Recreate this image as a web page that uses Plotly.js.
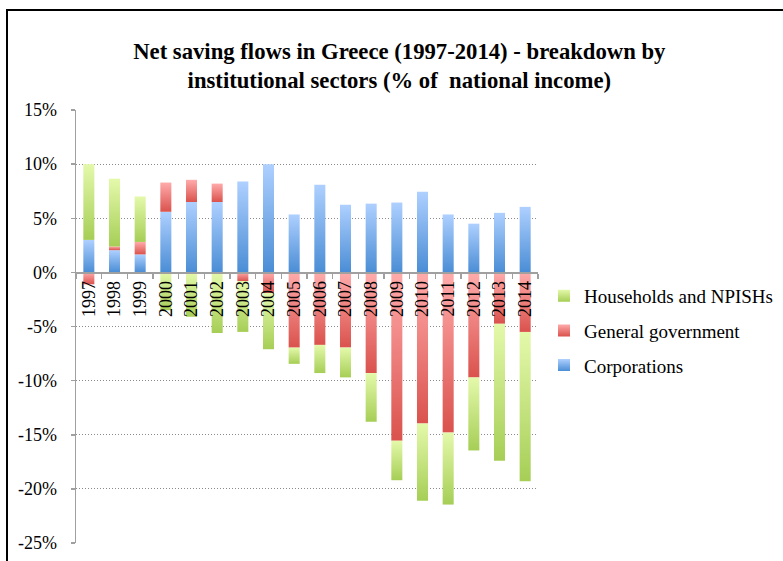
<!DOCTYPE html>
<html>
<head>
<meta charset="utf-8">
<script src="https://cdn.plot.ly/plotly-3.0.1.min.js"></script>
<style>
  html, body { margin: 0; padding: 0; background: #fff; }
  #wrap { position: relative; width: 783px; height: 561px; overflow: hidden; }
  #frame { position: absolute; left: 6px; top: 9px; width: 800px; height: 600px; border: 2px solid #000; box-sizing: border-box; }
  #chart { position: absolute; left: 0; top: 0; width: 783px; height: 561px; }
</style>
</head>
<body>
<div id="wrap">
  <div id="frame"></div>
  <div id="chart"></div>
</div>
<script>
const years = ['1997','1998','1999','2000','2001','2002','2003','2004','2005','2006','2007','2008','2009','2010','2011','2012','2013','2014'];
const corporations = [3.0, 2.05, 1.66, 5.6, 6.5, 6.5, 8.4, 10.0, 5.35, 8.1, 6.25, 6.35, 6.45, 7.45, 5.35, 4.5, 5.5, 6.05];
const generalGovernment = [-1.1, 0.35, 1.15, 2.7, 2.05, 1.7, -0.8, -1.9, -6.95, -6.7, -6.95, -9.3, -15.55, -13.95, -14.8, -9.7, -4.75, -5.5];
const households = [7.0, 6.25, 4.2, -3.5, -4.1, -5.6, -4.7, -5.2, -1.5, -2.6, -2.75, -4.5, -3.65, -7.15, -6.65, -6.75, -12.65, -13.8];
const yTickVals = [-25, -20, -15, -10, -5, 0, 5, 10, 15];
const yTickText = ['-25%', '-20%', '-15%', '-10%', '-5%', '0%', '5%', '10%', '15%'];

const serif = 'Liberation Serif, DejaVu Serif, serif';

const traces = [
  { type: 'bar', name: 'Corporations', x: years, y: corporations, marker: { color: '#79ade8' }, legendgroup: 'c', legendrank: 3 },
  { type: 'bar', name: 'General government', x: years, y: generalGovernment, marker: { color: '#ee8481' }, legendgroup: 'g', legendrank: 2 },
  { type: 'bar', name: 'Households and NPISHs', x: years, y: households, marker: { color: '#c6e585' }, legendgroup: 'h', legendrank: 1 }
];

const layout = {
  width: 783, height: 561,
  paper_bgcolor: 'rgba(0,0,0,0)', plot_bgcolor: 'rgba(0,0,0,0)',
  margin: { l: 76, r: 245, t: 109.5, b: 17.7, autoexpand: false },
  barmode: 'relative', bargap: 0.57,
  title: {
    text: '<b>Net saving flows in Greece (1997-2014) - breakdown by<br>institutional sectors (% of  national income)</b>',
    font: { family: serif, size: 22.7, color: '#000' },
    x: 0.51, xanchor: 'center', y: 0.895, yanchor: 'middle', yref: 'container'
  },
  xaxis: {
    type: 'category', anchor: 'free', position: 0.625,
    showline: true, linecolor: '#a0a0a0', linewidth: 1.5,
    ticks: 'outside', tickson: 'boundaries', ticklen: 5, tickcolor: '#a0a0a0', tickwidth: 1.5,
    tickangle: -90, tickfont: { family: serif, size: 18, color: '#000' },
    showgrid: false, zeroline: false
  },
  yaxis: {
    range: [-25, 15], tickvals: yTickVals, ticktext: yTickText,
    showline: true, linecolor: '#a0a0a0', linewidth: 1.5,
    ticks: 'outside', ticklen: 4, tickcolor: '#a0a0a0', tickwidth: 1.5,
    showgrid: true, gridcolor: '#8a8a8a', griddash: '1px,2px', gridwidth: 1,
    zeroline: false, ticklabelstandoff: 10,
    tickfont: { family: serif, size: 18, color: '#000' }
  },
  legend: {
    x: 1.013, xanchor: 'left', y: 0.49, yanchor: 'middle',
    traceorder: 'grouped', tracegroupgap: 7,
    font: { family: serif, size: 19, color: '#000' },
    bgcolor: 'rgba(0,0,0,0)'
  },
  showlegend: true
};

Plotly.newPlot('chart', traces, layout, { displayModeBar: false, staticPlot: true }).then(function (gd) {
  const svg = gd.querySelector('svg.main-svg');
  const NS = 'http://www.w3.org/2000/svg';
  let defs = svg.querySelector('defs');
  if (!defs) { defs = document.createElementNS(NS, 'defs'); svg.insertBefore(defs, svg.firstChild); }
  const grads = [
    ['gradC', '#aed0ff', '#4a8dd5'],
    ['gradG', '#ffabab', '#da524d'],
    ['gradH', '#e4f9ab', '#a6ce56']
  ];
  grads.forEach(function (g) {
    const lg = document.createElementNS(NS, 'linearGradient');
    lg.setAttribute('id', g[0]);
    lg.setAttribute('x1', '0'); lg.setAttribute('y1', '0');
    lg.setAttribute('x2', '0'); lg.setAttribute('y2', '1');
    const s1 = document.createElementNS(NS, 'stop'); s1.setAttribute('offset', '0'); s1.setAttribute('stop-color', g[1]);
    const s2 = document.createElementNS(NS, 'stop'); s2.setAttribute('offset', '1'); s2.setAttribute('stop-color', g[2]);
    lg.appendChild(s1); lg.appendChild(s2); defs.appendChild(lg);
  });
  const barGroups = gd.querySelectorAll('g.trace.bars');
  barGroups.forEach(function (grp, i) {
    grp.querySelectorAll('path').forEach(function (p) { p.style.fill = 'url(#' + grads[i][0] + ')'; });
  });
  const legendItems = gd.querySelectorAll('g.legend g.traces');
  legendItems.forEach(function (it) {
    const name = it.textContent;
    let idx = name.indexOf('Corporations') >= 0 ? 0 : (name.indexOf('General') >= 0 ? 1 : 2);
    it.querySelectorAll('.legendpoints path').forEach(function (p) { p.style.fill = 'url(#' + grads[idx][0] + ')'; });
  });
});
</script>
</body>
</html>
